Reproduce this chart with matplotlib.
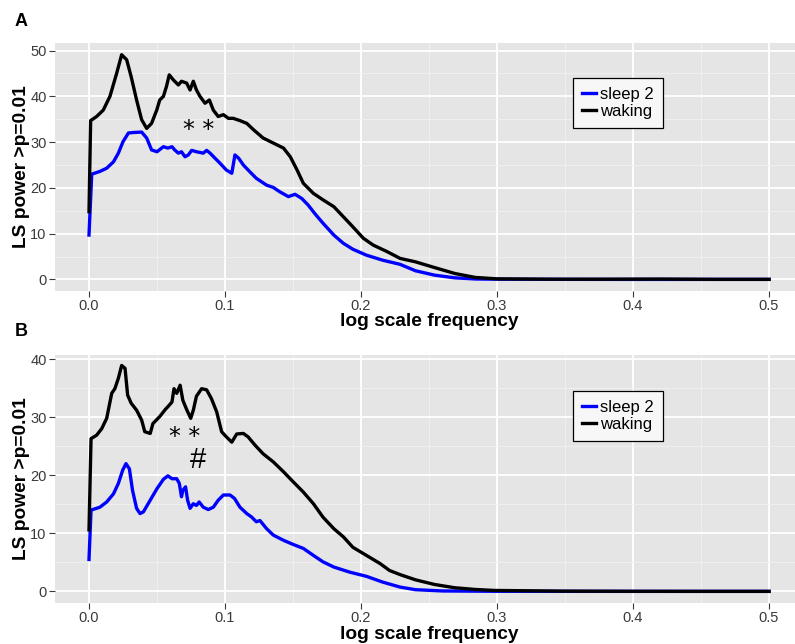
import matplotlib
matplotlib.use("Agg")
import matplotlib.pyplot as plt
from matplotlib.ticker import MultipleLocator

plt.rcParams['font.family'] = ['Liberation Sans', 'DejaVu Sans']

# ---------------- Data ----------------
# Panel A
a_wake_x = [0, 0.0012, 0.0056, 0.0105, 0.0154, 0.0203, 0.024, 0.0277, 0.031, 0.035, 0.0387,
            0.0424, 0.046, 0.0498, 0.052, 0.0547, 0.057, 0.059, 0.062, 0.0657, 0.068, 0.0718,
            0.0743, 0.0767, 0.079, 0.0816, 0.0853, 0.0885, 0.0914, 0.095, 0.0988, 0.1025, 0.106,
            0.111, 0.116, 0.121, 0.128, 0.1355, 0.143, 0.148, 0.153, 0.1576, 0.165, 0.172, 0.18,
            0.187, 0.194, 0.2017, 0.209, 0.219, 0.2287, 0.24, 0.254, 0.269, 0.284, 0.3, 0.34,
            0.38, 0.42, 0.46, 0.5]
a_wake_y = [14.8, 34.7, 35.6, 37.0, 40.0, 45.0, 49.1, 48.0, 44.3, 39.2, 34.9,
            33.0, 34.1, 37.0, 39.2, 40.0, 42.2, 44.7, 43.6, 42.5, 43.3, 42.9,
            41.4, 43.3, 41.4, 40.0, 38.5, 39.2, 37.0, 35.6, 36.0, 35.2, 35.2,
            34.7, 34.1, 32.7, 30.9, 29.8, 28.7, 26.8, 23.9, 21.0, 18.8, 17.4, 15.9,
            13.7, 11.5, 9.0, 7.5, 6.1, 4.6, 3.85, 2.6, 1.3, 0.44, 0.13, 0.05,
            0.05, 0.08, 0.02, 0.02]
a_sleep_x = [0, 0.002, 0.008, 0.013, 0.018, 0.0216, 0.025, 0.029, 0.0326, 0.0387, 0.0424,
             0.046, 0.05, 0.0547, 0.058, 0.061, 0.063, 0.0657, 0.068, 0.0706, 0.073, 0.0755,
             0.079, 0.084, 0.0865, 0.089, 0.0926, 0.0963, 0.101, 0.105, 0.1073, 0.11, 0.1135,
             0.118, 0.123, 0.1306, 0.1355, 0.14, 0.1466, 0.1515, 0.1564, 0.161, 0.166, 0.172,
             0.18, 0.187, 0.194, 0.204, 0.216, 0.2287, 0.24, 0.254, 0.269, 0.284, 0.3, 0.35,
             0.4, 0.45, 0.5]
a_sleep_y = [9.7, 23.0, 23.6, 24.3, 25.7, 27.6, 30.1, 32.0, 32.1, 32.2, 30.9,
             28.3, 27.9, 29.0, 28.7, 29.0, 28.3, 27.6, 27.9, 26.8, 27.2, 28.2,
             27.9, 27.6, 28.2, 27.6, 26.5, 25.4, 23.9, 23.2, 27.2, 26.5, 25.0,
             23.6, 22.1, 20.6, 20.1, 19.2, 18.1, 18.6, 17.7, 16.3, 14.4, 12.3,
             9.7, 7.9, 6.6, 5.3, 4.2, 3.3, 1.9, 0.94, 0.35, 0.1, 0.05, 0.02,
             0.01, 0.01, 0.01]

# Panel B
b_wake_x = [0, 0.0015, 0.0056, 0.0093, 0.013, 0.0167, 0.019, 0.0216, 0.024, 0.0265, 0.0284,
            0.031, 0.035, 0.0387, 0.041, 0.045, 0.047, 0.052, 0.056, 0.058, 0.061, 0.0625,
            0.0645, 0.067, 0.069, 0.072, 0.0748, 0.0767, 0.079, 0.0828, 0.0865, 0.09, 0.0939,
            0.0975, 0.101, 0.105, 0.1086, 0.1135, 0.117, 0.122, 0.128, 0.1355, 0.143, 0.15,
            0.1576, 0.165, 0.172, 0.18, 0.187, 0.194, 0.204, 0.214, 0.221, 0.2287, 0.24,
            0.254, 0.269, 0.284, 0.298, 0.35, 0.4, 0.45, 0.5]
b_wake_y = [10.6, 26.3, 26.9, 28.0, 29.8, 34.1, 34.9, 36.7, 38.9, 38.4, 33.8,
            32.4, 31.2, 29.5, 27.5, 27.2, 28.9, 30.1, 31.3, 31.8, 32.6, 34.9,
            34.1, 35.5, 32.9, 31.2, 29.8, 31.2, 33.6, 34.9, 34.7, 33.2, 30.9,
            27.5, 26.6, 25.7, 27.1, 27.2, 26.6, 25.2, 23.7, 22.3, 20.6, 18.9,
            17.1, 15.1, 12.8, 10.8, 9.4, 7.6, 6.2, 4.8, 3.6, 2.9, 2.0,
            1.2, 0.63, 0.34, 0.17, 0.05, 0.02, 0.01, 0.01]
b_sleep_x = [0, 0.0015, 0.008, 0.013, 0.018, 0.0216, 0.0248, 0.0272, 0.0297, 0.032, 0.035,
             0.0375, 0.04, 0.045, 0.05, 0.0547, 0.058, 0.061, 0.0645, 0.0664, 0.068, 0.069,
             0.071, 0.0725, 0.0743, 0.0767, 0.079, 0.081, 0.084, 0.0877, 0.0914, 0.095, 0.0988,
             0.1037, 0.107, 0.111, 0.116, 0.1196, 0.123, 0.1257, 0.1306, 0.1355, 0.143, 0.15,
             0.1576, 0.165, 0.172, 0.18, 0.192, 0.204, 0.216, 0.2287, 0.24, 0.26, 0.3, 0.4, 0.5]
b_sleep_y = [5.5, 14.0, 14.5, 15.4, 16.8, 18.6, 20.9, 22.0, 21.1, 17.4, 14.3,
             13.4, 13.7, 15.7, 17.7, 19.3, 19.9, 19.4, 19.4, 18.6, 16.3, 17.4,
             18.0, 15.7, 14.3, 15.1, 14.8, 15.4, 14.5, 14.1, 14.5, 15.7, 16.6,
             16.6, 16.0, 14.5, 13.4, 12.8, 12.0, 12.2, 10.8, 9.7, 8.8, 8.1,
             7.4, 6.2, 5.1, 4.2, 3.3, 2.6, 1.6, 0.75, 0.3, 0.08, 0.02, 0.01, 0.01]

x_ticks = [0.0, 0.1, 0.2, 0.3, 0.4, 0.5]
x_ticklabels = ["0.0", "0.1", "0.2", "0.3", "0.4", "0.5"]
a_yticks = [0, 10, 20, 30, 40, 50]
b_yticks = [0, 10, 20, 30, 40]
series_labels = ["sleep 2", "waking"]
panel_letters = ["A", "B"]

# ---------------- Figure ----------------
W, H = 795, 644
fig = plt.figure(figsize=(W / 100, H / 100), dpi=100)

def fx(px):
    return px / W

def fy(py):
    return 1 - py / H

panels = [
    dict(top=43, bottom=290.7, ylim=(-2.46, 51.66), yticks=a_yticks,
         wake=(a_wake_x, a_wake_y), sleep=(a_sleep_x, a_sleep_y),
         legend_top=78, letter_y=22, xlabel_y=322,
         ann=[("* *", 0.0805, 32.6, 17)], hash_=None),
    dict(top=355, bottom=602.7, ylim=(-1.94, 40.7), yticks=b_yticks,
         wake=(b_wake_x, b_wake_y), sleep=(b_sleep_x, b_sleep_y),
         legend_top=390.7, letter_y=332, xlabel_y=634.5,
         ann=[("* *", 0.0702, 26.5, 17)], hash_=(0.080, 22.6)),
]

tick_color = '#3a3a3a'
for i, p in enumerate(panels):
    ax = fig.add_axes([fx(55), fy(p['bottom']), fx(795 - 55), (p['bottom'] - p['top']) / H])
    ax.set_facecolor('#E5E5E5')
    for s in ax.spines.values():
        s.set_visible(False)
    ax.set_xlim(-0.025, 0.5191)
    ax.set_ylim(*p['ylim'])
    ax.set_xticks(x_ticks)
    ax.set_xticklabels(x_ticklabels)
    ax.set_yticks(p['yticks'])
    ax.xaxis.set_minor_locator(MultipleLocator(0.05))
    ax.yaxis.set_minor_locator(MultipleLocator(5))
    ax.grid(True, which='major', color='white', linewidth=1.3)
    ax.grid(True, which='minor', color='#F2F2F2', linewidth=0.6)
    ax.set_axisbelow(True)
    ax.tick_params(which='major', direction='out', length=4, width=0.8,
                   color=tick_color, labelcolor=tick_color, labelsize=10.5, pad=2)
    ax.tick_params(which='minor', length=0)

    l1, = ax.plot(*p['sleep'], color='#0000FF', linewidth=2.4, solid_joinstyle='round',
                  label=series_labels[0])
    l2, = ax.plot(*p['wake'], color='black', linewidth=2.4, solid_joinstyle='round',
                  label=series_labels[1])

    for txt, x, y, fs in p['ann']:
        ax.text(x, y, txt, fontsize=fs, ha='center', va='center', color='black',
                family=['DejaVu Sans'])
    if p['hash_'] is not None:
        ax.text(p['hash_'][0], p['hash_'][1], "#", fontsize=21, ha='center', va='center',
                color='black')

    leg = ax.legend(handles=[l1, l2], loc='upper left',
                    bbox_to_anchor=(fx(573), fy(p['legend_top'])),
                    bbox_transform=fig.transFigure, borderaxespad=0,
                    fontsize=12, handlelength=0.85, handletextpad=0.25,
                    labelspacing=0.12, borderpad=0.55, fancybox=False,
                    frameon=True, framealpha=1)
    leg.get_frame().set_edgecolor('black')
    leg.get_frame().set_linewidth(0.9)
    leg.get_frame().set_facecolor('#F7F7F7')

    fig.text(fx(22), fy((p['top'] + p['bottom']) / 2), "LS power >p=0.01",
             rotation=90, ha='center', va='center', fontsize=13.8, fontweight='bold')
    fig.text(fx(429), fy(p['xlabel_y']), "log scale frequency", ha='center', va='center',
             fontsize=13.8, fontweight='bold')
    fig.text(fx(15), fy(p['letter_y']), panel_letters[i], ha='left', va='center',
             fontsize=13, fontweight='bold')

fig.savefig("out.png", dpi=100)
